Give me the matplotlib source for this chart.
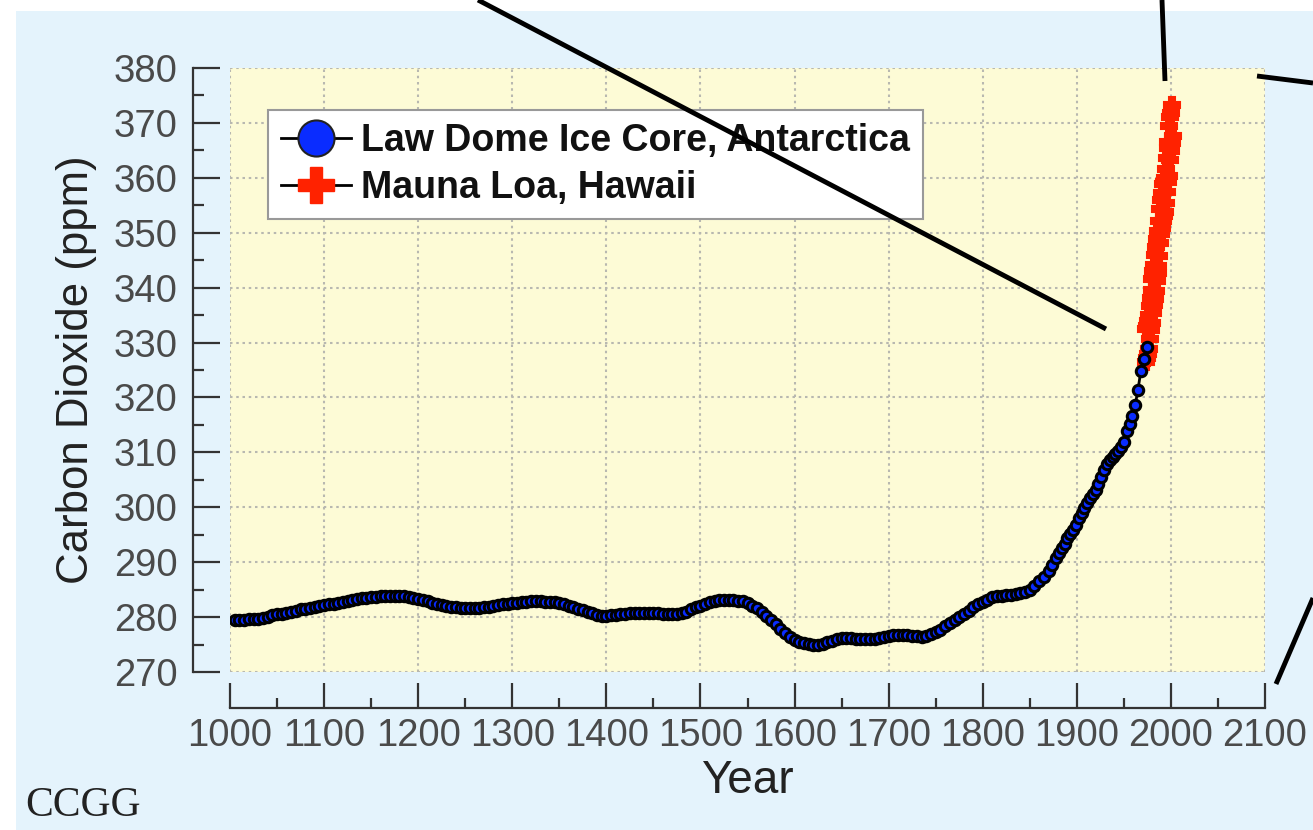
import numpy as np
import matplotlib.pyplot as plt
from matplotlib.lines import Line2D
from matplotlib.patches import Rectangle
from matplotlib.ticker import MultipleLocator

# Law Dome ice core, 5-year steps from 1005 to 1845
law_years_early = np.arange(1005, 1850, 5)
law_co2_early = [
    279.5, 279.5, 279.5, 279.6, 279.6, 279.7, 279.9, 280.1, 280.3, 280.5,
    280.6, 280.8, 281.0, 281.2, 281.4, 281.5, 281.7, 281.9, 282.1, 282.2,
    282.3, 282.4, 282.6, 282.8, 283.0, 283.2, 283.3, 283.4, 283.5, 283.6,
    283.7, 283.8, 283.9, 283.9, 283.9, 283.9, 283.8, 283.7, 283.5, 283.3,
    283.1, 282.9, 282.6, 282.4, 282.2, 282.0, 281.9, 281.8, 281.7, 281.6,
    281.6, 281.6, 281.7, 281.8, 281.9, 282.0, 282.2, 282.3, 282.4, 282.5,
    282.6, 282.7, 282.8, 282.9, 282.9, 282.9, 282.8, 282.8, 282.7, 282.6,
    282.4, 282.1, 281.8, 281.5, 281.3, 281.0, 280.7, 280.4, 280.2, 280.2,
    280.3, 280.4, 280.5, 280.6, 280.7, 280.8, 280.8, 280.8, 280.8, 280.8,
    280.7, 280.6, 280.5, 280.5, 280.5, 280.7, 281.0, 281.4, 281.8, 282.1,
    282.4, 282.7, 282.9, 283.1, 283.1, 283.1, 283.1, 283.0, 282.9, 282.6,
    282.1, 281.6, 281.0, 280.2, 279.4, 278.7, 277.9, 277.1, 276.4, 275.9,
    275.5, 275.2, 275.1, 275.0, 275.0, 275.1, 275.4, 275.7, 276.0, 276.2,
    276.2, 276.2, 276.1, 276.0, 276.0, 276.0, 276.1, 276.2, 276.3, 276.5,
    276.7, 276.8, 276.8, 276.7, 276.6, 276.5, 276.4, 276.6, 276.9, 277.3,
    277.7, 278.3, 278.9, 279.5, 280.0, 280.6, 281.2, 281.8, 282.3, 282.8,
    283.2, 283.6, 283.8, 283.9, 284.0, 284.1, 284.2, 284.3, 284.5,
]
# Law Dome, industrial era
law_years_late = [
    1850, 1855, 1860, 1865, 1870, 1874, 1878, 1881, 1884, 1887,
    1890, 1893, 1896, 1899, 1902, 1905, 1908, 1911, 1914, 1917,
    1920, 1923, 1926, 1929, 1932, 1935, 1938, 1941, 1944, 1947,
    1950, 1953, 1956, 1959, 1962, 1965, 1968, 1971, 1975,
]
law_co2_late = [
    285.0, 285.7, 286.5, 287.3, 288.4, 289.5, 290.8, 291.6, 292.5, 293.4,
    294.4, 295.2, 295.9, 296.7, 298.1, 299.0, 299.8, 300.8, 301.6, 302.4,
    303.2, 304.2, 305.6, 306.8, 307.9, 308.6, 309.2, 309.7, 310.3, 311.0,
    311.9, 313.8, 315.2, 316.7, 318.6, 321.4, 324.8, 327.0, 329.2,
]

# Mauna Loa: seasonal high (May) and low (Oct) of each year
ml_years = list(range(1973, 2002))
ml_high = [332.4, 333.1, 334.0, 335.0, 336.6, 338.2, 339.5, 341.5, 343.0, 344.2,
           345.9, 347.4, 348.9, 350.3, 352.1, 354.4, 355.9, 357.2, 358.8, 359.2,
           360.0, 361.6, 363.6, 365.5, 366.6, 369.5, 371.0, 371.8, 373.2]
ml_low = [326.4, 327.2, 328.0, 328.9, 330.6, 332.2, 333.6, 335.4, 336.8, 338.0,
          339.4, 341.2, 342.6, 343.9, 345.8, 348.2, 349.8, 350.9, 352.1, 353.0,
          353.8, 355.4, 357.4, 359.2, 360.3, 363.2, 364.9, 366.4, 367.6]

law_x = np.concatenate([law_years_early, law_years_late])
law_y = np.concatenate([law_co2_early, law_co2_late])
ml_x = np.ravel([[y + 0.4, y + 0.8] for y in ml_years])
ml_y = np.ravel(list(zip(ml_high, ml_low)))

W, H = 1313, 830
fig = plt.figure(figsize=(W / 100, H / 100), dpi=100, facecolor='white')
plt.rcParams['font.family'] = ['Liberation Sans', 'DejaVu Sans']

# light blue panel, leaving the white strip at top and left
fig.add_artist(Rectangle((16 / W, 0), 1 - 16 / W, (H - 11) / H,
                         transform=fig.transFigure, facecolor='#e4f3fc',
                         edgecolor='none', zorder=0))

ax = fig.add_axes([230 / W, 1 - 672 / H, (1265 - 230) / W, (672 - 68) / H])
ax.set_facecolor('#fdfbd6')

ax.plot(ml_x, ml_y, '-', color='black', lw=1, marker='P', markersize=11,
        markerfacecolor='#ff2200', markeredgecolor='#ff2200', markeredgewidth=1.5,
        zorder=3)
ax.plot(law_x, law_y, '-', color='black', lw=2, marker='o', markersize=7.5,
        markerfacecolor='#0a2cff', markeredgecolor='black', markeredgewidth=2.2,
        zorder=4)

ax.set_xlim(1000, 2100)
ax.set_ylim(270, 380)
ax.xaxis.set_major_locator(MultipleLocator(100))
ax.xaxis.set_minor_locator(MultipleLocator(50))
ax.yaxis.set_major_locator(MultipleLocator(10))
ax.yaxis.set_minor_locator(MultipleLocator(5))
ax.grid(True, which='major', color='#b8b8b0', linestyle=(0, (1.2, 1.8)), lw=1.5)
ax.set_axisbelow(True)

for s in ['top', 'right']:
    ax.spines[s].set_visible(False)
ax.spines['left'].set_position(('outward', 26.6))
ax.spines['bottom'].set_position(('outward', 26))
for s in ['left', 'bottom']:
    ax.spines[s].set_color('#333333')
    ax.spines[s].set_linewidth(1.6)

ax.tick_params(axis='both', which='both', direction='in', color='#333333', width=1.6,
               labelcolor='#4a4a4a', labelsize=27.5)
ax.tick_params(axis='y', which='major', length=19.4, pad=11)
ax.tick_params(axis='y', which='minor', length=8)
ax.tick_params(axis='x', which='major', length=18, pad=7)
ax.tick_params(axis='x', which='minor', length=7.2)

ax.set_xlabel('Year', fontsize=33, color='#222222', labelpad=4)
ax.set_ylabel('Carbon Dioxide (ppm)', fontsize=31.5, color='#222222', labelpad=12)

handles = [
    Line2D([], [], color='black', lw=2, marker='o', markersize=26,
           markerfacecolor='#0a2cff', markeredgecolor='#222222', markeredgewidth=1.5),
    Line2D([], [], color='black', lw=2, marker='P', markersize=26,
           markerfacecolor='#ff2200', markeredgecolor='#ff2200'),
]
leg = ax.legend(handles, ['Law Dome Ice Core, Antarctica', 'Mauna Loa, Hawaii'],
                loc='upper left', bbox_to_anchor=(268 / W, 1 - 110 / H),
                bbox_transform=fig.transFigure, fancybox=False, framealpha=1,
                edgecolor='#999999', handlelength=1.85, handletextpad=0.27,
                borderpad=0.35, labelspacing=0.3, borderaxespad=0,
                prop={'weight': 'bold', 'size': 27})
leg.get_frame().set_linewidth(1.5)
leg.set_zorder(5)
for t in leg.get_texts():
    t.set_color('#111111')

fig.text(25 / W, 1 - 816 / H, 'CCGG', fontsize=30, color='#222222',
         family=['Liberation Serif', 'DejaVu Serif'], va='baseline', ha='left')

# black pointer lines crossing the picture
pointers = [
    ((478, 0), (1106, 329)),
    ((1162, 0), (1165, 81)),
    ((1257, 76), (1313, 83)),
    ((1276, 684), (1313, 598)),
]
for (x0, y0), (x1, y1) in pointers:
    fig.add_artist(Line2D([x0 / W, x1 / W], [1 - y0 / H, 1 - y1 / H],
                          transform=fig.transFigure, color='black', lw=3.5,
                          solid_capstyle='butt', zorder=10))

fig.savefig('out.png', dpi=100, facecolor=fig.get_facecolor())
